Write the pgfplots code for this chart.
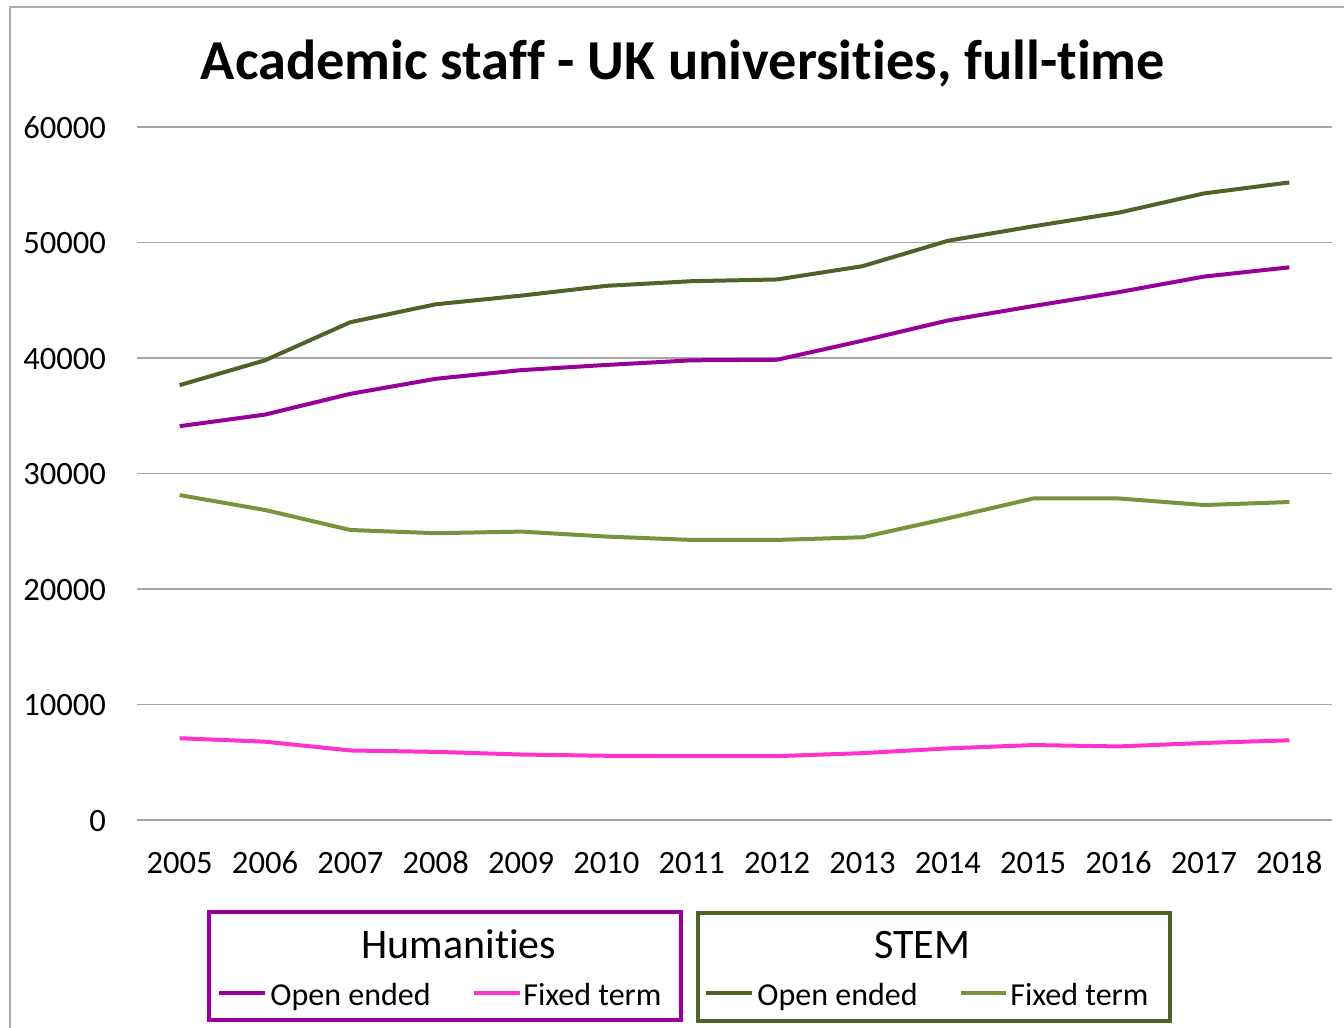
\documentclass[border=0pt]{standalone}
\usepackage{pgfplots}
\pgfplotsset{compat=1.18}
\usepackage{fontspec}
\setmainfont{Carlito}[RawFeature=-liga, RawFeature=-clig, RawFeature=-calt, RawFeature=-dlig]

\definecolor{humopen}{HTML}{990099}
\definecolor{humfixed}{HTML}{FF33CC}
\definecolor{stemopen}{HTML}{4F6228}
\definecolor{stemfixed}{HTML}{77933C}

\begin{document}
\begin{tikzpicture}
  % page frame, 1px of the reference = 0.5pt
  \path[use as bounding box] (0,0) rectangle (672pt,-514pt);
  \draw[gray!65, line width=1pt] (5pt,-514pt) -- (5pt,-3.5pt) -- (672pt,-3.5pt);

  % \kern0pt keeps the font from joining t+i and f+f
  \node[anchor=base] at (341.5pt,-39.5pt)
    {\bfseries\fontsize{28.2}{34}\selectfont Academic staf\kern0pt f - UK universit\kern0pt ies, full-t\kern0pt ime};

  \begin{axis}[
    at={(68.5pt,-410pt)}, anchor=origin,
    scale only axis, width=597.5pt, height=346.5pt,
    xmin=2004.5, xmax=2018.5, ymin=0, ymax=60000,
    xtick={2005,...,2018}, ytick={0,10000,...,60000},
    scaled y ticks=false,
    /pgf/number format/1000 sep={},
    /pgf/number format/assume math mode=true,
    axis line style={draw=none},
    tick style={draw=none},
    ymajorgrids,
    major grid style={gray!70, line width=0.75pt},
    tick label style={font=\fontsize{16.3}{19}\selectfont, inner sep=0pt, outer sep=0pt,
      text height=11pt, text depth=0pt},
    yticklabel shift=15.5pt,
    xticklabel shift=15.5pt,
    clip=false,
    every axis plot/.append style={line width=2pt, no markers, line join=round},
    ]
    \addplot[humopen] coordinates {
      (2005,34100) (2006,35100) (2007,36900) (2008,38200) (2009,38950)
      (2010,39400) (2011,39800) (2012,39850) (2013,41500) (2014,43250)
      (2015,44500) (2016,45700) (2017,47050) (2018,47850)};
    \addplot[humfixed] coordinates {
      (2005,7080) (2006,6780) (2007,6020) (2008,5900) (2009,5670)
      (2010,5560) (2011,5530) (2012,5530) (2013,5790) (2014,6200)
      (2015,6490) (2016,6370) (2017,6670) (2018,6900)};
    \addplot[stemopen] coordinates {
      (2005,37650) (2006,39800) (2007,43100) (2008,44650) (2009,45400)
      (2010,46250) (2011,46650) (2012,46800) (2013,47950) (2014,50150)
      (2015,51400) (2016,52580) (2017,54250) (2018,55200)};
    \addplot[stemfixed] coordinates {
      (2005,28130) (2006,26840) (2007,25110) (2008,24830) (2009,24970)
      (2010,24540) (2011,24250) (2012,24250) (2013,24480) (2014,26120)
      (2015,27840) (2016,27840) (2017,27270) (2018,27530)};
  \end{axis}

  % legend boxes
  \draw[humopen, line width=2pt] (104.5pt,-456pt) rectangle (340.5pt,-510pt);
  \node at (229.5pt,-472pt) {\fontsize{21}{25}\selectfont Humanities};
  \draw[humopen, line width=2pt] (109.5pt,-496.5pt) -- (132.5pt,-496.5pt);
  \node[anchor=base west, inner sep=0pt] at (135pt,-502.5pt) {\fontsize{16}{19}\selectfont Open ended};
  \draw[humfixed, line width=2pt] (237pt,-496.5pt) -- (260pt,-496.5pt);
  \node[anchor=base west, inner sep=0pt] at (261.5pt,-502.5pt) {\fontsize{16}{19}\selectfont Fixed term};

  \draw[stemopen, line width=2pt] (349pt,-456.5pt) rectangle (585pt,-510.5pt);
  \node at (461pt,-472.5pt) {\fontsize{21}{25}\selectfont STEM};
  \draw[stemopen, line width=2pt] (353pt,-496.5pt) -- (376pt,-496.5pt);
  \node[anchor=base west, inner sep=0pt] at (378.5pt,-502.5pt) {\fontsize{16}{19}\selectfont Open ended};
  \draw[stemfixed, line width=2pt] (480.5pt,-496.5pt) -- (503pt,-496.5pt);
  \node[anchor=base west, inner sep=0pt] at (505pt,-502.5pt) {\fontsize{16}{19}\selectfont Fixed term};
\end{tikzpicture}
\end{document}
